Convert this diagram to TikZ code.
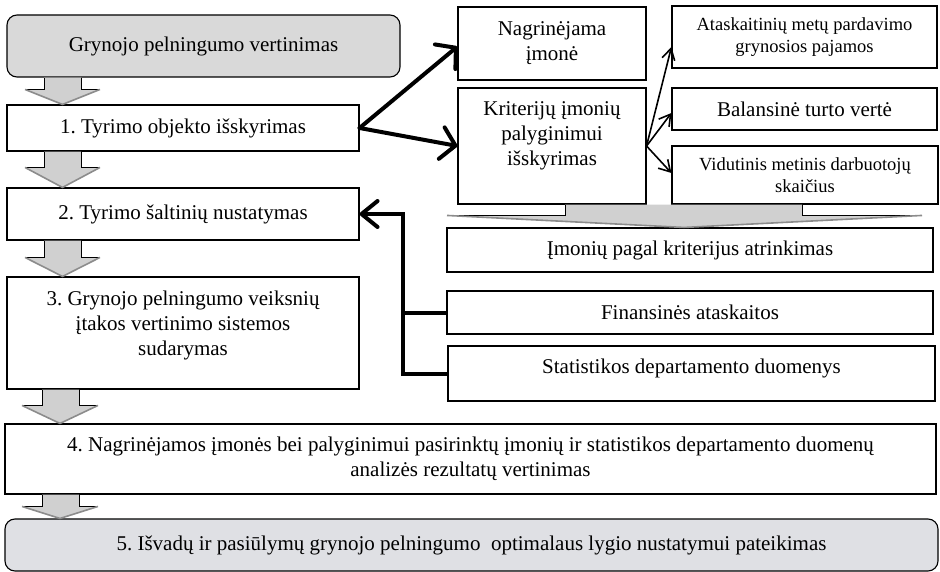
\documentclass[tikz,border=0pt]{standalone}
\usepackage{fontspec}
\setmainfont{Liberation Serif}
\frenchspacing
\usetikzlibrary{arrows.meta,calc}
\definecolor{topgray}{HTML}{D9D9D9}
\definecolor{botgray}{HTML}{DFE0E4}
\definecolor{arrgray}{HTML}{D0D0D0}
\definecolor{shadowgray}{HTML}{8C8C8C}
\newcommand{\mainsz}{\fontsize{21}{25}\selectfont}
\newcommand{\smallsz}{\fontsize{18.5}{22}\selectfont}
% #1 from node, #2 to node, #3 shaft left, #4 shaft right, #5 head left, #6 head right, #7 head height, #8 tip x
\newcommand{\blockdown}[8]{%
  \fill[arrgray] let \p1=(#1.south), \p2=(#2.north) in
  (#3pt,\y1) -- (#3pt,\y2+#7pt) -- (#5pt,\y2+#7pt) -- (#8pt,\y2) -- (#6pt,\y2+#7pt) -- (#4pt,\y2+#7pt) -- (#4pt,\y1) -- cycle;
  \draw[blockedge] let \p1=(#1.south), \p2=(#2.north) in
  (#3pt,\y1) -- (#3pt,\y2+#7pt) -- (#5pt,\y2+#7pt)
  (#4pt,\y1) -- (#4pt,\y2+#7pt) -- (#6pt,\y2+#7pt);
  \draw[blockshadow] let \p2=(#2.north) in
  (#5pt,\y2+#7pt) -- (#8pt,\y2) -- (#6pt,\y2+#7pt);}
\begin{document}
\begin{tikzpicture}[x=1pt,y=-1pt,
  box/.style={draw,line width=1.1pt,inner sep=0pt,align=center,font=\mainsz},
  smallbox/.style={box,font=\smallsz},
  plain/.style={inner sep=0pt,align=center,font=\mainsz},
  roundbox/.style={box,rounded corners=10pt},
  blockedge/.style={draw=black,line width=0.9pt,line join=miter},
  blockshadow/.style={draw=shadowgray,line width=1.6pt},
  thickarrow/.style={line width=4pt,line cap=round,-{Straight Barb[length=14pt,width=32pt,round,line width=4pt]}},
  fbline/.style={line width=4pt},
  thinarrow/.style={line width=1.6pt,-{Straight Barb[length=11pt,width=13pt,line width=1.6pt]}}]
\useasboundingbox (0,0) rectangle (940,572);
% left column
\node[roundbox,fill=topgray,minimum width=393pt,minimum height=62pt] (top) at (203.5,46) {Grynojo pelningumo vertinimas};
\node[box,minimum width=352pt,minimum height=46pt] (b1) at (183,128) {1. Tyrimo objekto išskyrimas};
\node[box,minimum width=352pt,minimum height=52pt] (b2) at (183,214) {2. Tyrimo šaltinių nustatymas};
\node[box,minimum width=352pt,minimum height=112pt] (b3) at (183,333) {};
\node[plain] (b3t) at (183,325) {3. Grynojo pelningumo veiksnių\\ įtakos vertinimo sistemos\\ sudarymas};
\node[box,minimum width=931pt,minimum height=70pt] (b4) at (470.5,459) {4. Nagrinėjamos įmonės bei palyginimui pasirinktų įmonių ir statistikos departamento duomenų\\ analizės rezultatų vertinimas};
\node[roundbox,fill=botgray,minimum width=933pt,minimum height=52pt] (b5) at (471.5,545) {5. Išvadų ir pasiūlymų grynojo pelningumo\ \ optimalaus lygio nustatymui pateikimas};
% right part
\node[box,minimum width=188pt,minimum height=73pt] (nag) at (552,43.5) {Nagrinėjama\\ įmonė};
\node[box,minimum width=188pt,minimum height=116pt] (krit) at (552,146) {};
\node[plain] (kritt) at (552,136) {Kriterijų įmonių\\ palyginimui\\ išskyrimas};
\node[smallbox,minimum width=265pt,minimum height=62pt] (atas) at (804.5,37) {Ataskaitinių metų pardavimo\\ grynosios pajamos};
\node[box,minimum width=265pt,minimum height=42pt] (bal) at (804.5,109) {Balansinė turto vertė};
\node[smallbox,minimum width=266pt,minimum height=58pt] (vid) at (805,175) {Vidutinis metinis darbuotojų\\ skaičius};
\node[box,minimum width=486pt,minimum height=44pt] (imon) at (690,250) {Įmonių pagal kriterijus atrinkimas};
\node[box,minimum width=486pt,minimum height=43pt] (fin) at (690,312.5) {Finansinės ataskaitos};
\node[box,minimum width=487pt,minimum height=55pt] (stat) at (691.5,373.5) {};
\node[plain] (statt) at (691.5,368) {Statistikos departamento duomenys};
% block arrows
\blockdown{top}{b1}{44}{81}{25}{100}{15}{62.5}
\blockdown{b1}{b2}{44}{81}{25}{100}{20}{62.5}
\blockdown{b2}{b3}{44}{81}{25}{100}{19}{62.5}
\blockdown{b3}{b4}{42}{79}{22}{98}{18}{60}
\blockdown{b4}{b5}{42}{79}{22}{98}{12}{60}
\blockdown{krit}{imon}{565}{802}{447}{922}{12}{684}
% thick arrows
\draw[thickarrow] (b1.east) -- ([yshift=-3pt]nag.west);
\draw[thickarrow] (b1.east) -- (krit.west);
% thin arrows
\draw[thinarrow] (krit.east) -- ([yshift=-10pt]atas.west);
\draw[thinarrow] (krit.east) -- ([yshift=-4pt]bal.west);
\draw[thinarrow] (krit.east) -- ([yshift=2pt]vid.west);
% feedback
\coordinate (fb) at (403,300);
\draw[fbline,-{Straight Barb[length=16pt,width=26pt,round,line width=4pt]}] (stat.west) -| (fb) |- (b2.east);
\draw[fbline] (fin.west) -- (fin.west -| fb);
\end{tikzpicture}
\end{document}
